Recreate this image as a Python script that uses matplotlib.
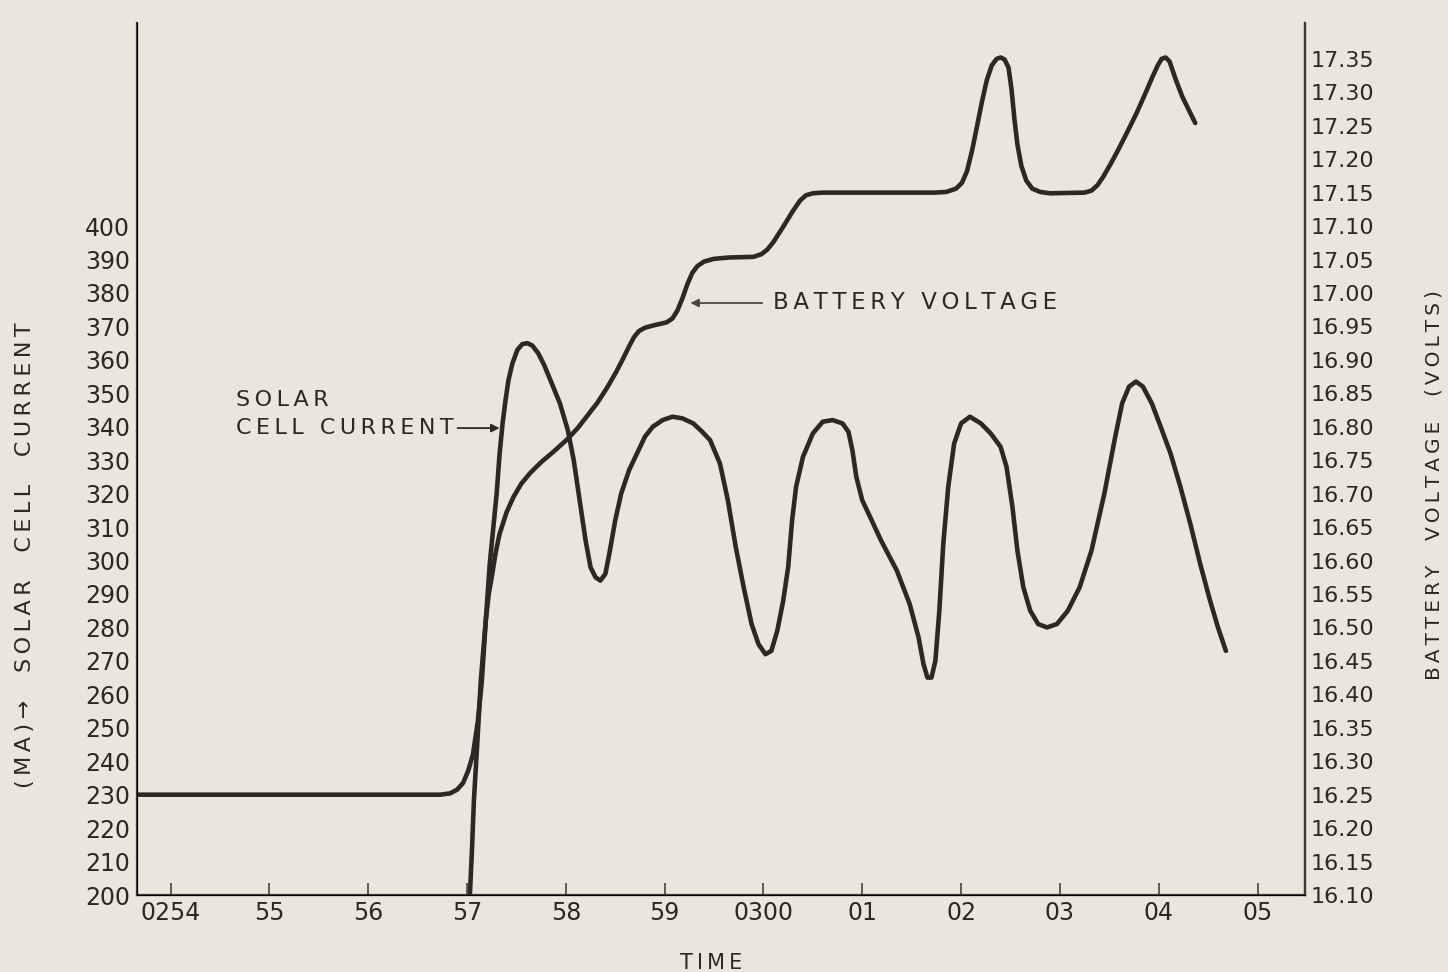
import matplotlib.pyplot as plt

# time axis in minutes after 02:54
tick_pos = list(range(12))
tick_lab = ['0254', '55', '56', '57', '58', '59', '0300', '01', '02', '03', '04', '05']

# solar cell current (mA)
sol_t = [-0.34, 2.73, 2.83, 2.90, 2.96, 3.01, 3.06, 3.11, 3.15, 3.19, 3.23, 3.27, 3.30,
         3.33, 3.36, 3.39, 3.42, 3.46, 3.51, 3.56, 3.61, 3.66, 3.72, 3.78, 3.85, 3.94,
         4.02, 4.08, 4.14, 4.20, 4.25, 4.30, 4.35, 4.40, 4.44, 4.50, 4.56, 4.64, 4.72,
         4.80, 4.88, 4.98, 5.08, 5.18, 5.29, 5.38, 5.46, 5.56, 5.64, 5.72, 5.80, 5.88,
         5.95, 6.02, 6.08, 6.14, 6.20, 6.25, 6.29, 6.33, 6.40, 6.50, 6.60, 6.70, 6.80,
         6.86, 6.90, 6.94, 7.00, 7.08, 7.19, 7.35, 7.48, 7.57, 7.62, 7.66, 7.70, 7.74,
         7.78, 7.82, 7.87, 7.93, 8.00, 8.09, 8.20, 8.30, 8.40, 8.46, 8.52, 8.57, 8.63,
         8.70, 8.78, 8.87, 8.97, 9.08, 9.20, 9.32, 9.45, 9.56, 9.63, 9.70, 9.77, 9.84,
         9.93, 10.02, 10.12, 10.22, 10.32, 10.42, 10.52, 10.60, 10.68]
sol_ma = [230, 230, 230.4, 231.5, 233.5, 237, 242, 252, 264, 282, 299, 311, 320,
          332, 341, 348, 354, 359, 363, 364.7, 365, 364.3, 362, 358.5, 353.5, 347,
          339, 330, 318, 306, 298, 295, 294, 296, 302, 312, 320, 327, 332,
          337, 340, 342, 343, 342.5, 341, 338.5, 336, 329, 318, 304, 292, 281,
          275, 272, 273, 279, 288, 298, 312, 322, 331, 338, 341.5, 342, 341,
          338.5, 333, 325, 318, 313, 306, 297, 287, 277, 269, 265, 265, 270,
          285, 305, 322, 335, 341, 343, 341, 338, 334, 328, 316, 303, 292,
          285, 281, 280, 281, 285, 292, 303, 320, 337, 347, 352, 353.5, 352,
          347, 340, 332, 322, 311, 299, 288, 280, 273]

# battery voltage (V)
bat_t = [3.03, 3.05, 3.07, 3.10, 3.14, 3.19, 3.22, 3.25, 3.29, 3.33, 3.40, 3.47, 3.55,
         3.64, 3.75, 3.87, 4.02, 4.12, 4.21, 4.32, 4.42, 4.51, 4.58, 4.64, 4.69, 4.74,
         4.80, 4.90, 5.02, 5.08, 5.13, 5.18, 5.23, 5.28, 5.33, 5.40, 5.50, 5.65, 5.90,
         5.98, 6.04, 6.10, 6.20, 6.30, 6.37, 6.43, 6.50, 6.60, 7.72, 7.85, 7.95, 8.01,
         8.06, 8.11, 8.16, 8.21, 8.26, 8.31, 8.36, 8.40, 8.44, 8.48, 8.51, 8.54, 8.57,
         8.61, 8.66, 8.72, 8.80, 8.90, 9.25, 9.32, 9.38, 9.44, 9.51, 9.58, 9.68, 9.78,
         9.87, 9.94, 9.99, 10.03, 10.07, 10.11, 10.17, 10.24, 10.37]
bat_v = [16.103, 16.167, 16.242, 16.317, 16.421, 16.511, 16.550, 16.575, 16.612, 16.640,
         16.672, 16.695, 16.715, 16.731, 16.747, 16.762, 16.782, 16.798, 16.815, 16.836,
         16.859, 16.882, 16.902, 16.920, 16.934, 16.943, 16.948, 16.952, 16.956, 16.962,
         16.974, 16.992, 17.013, 17.030, 17.040, 17.047, 17.051, 17.053, 17.054, 17.058,
         17.065, 17.076, 17.099, 17.123, 17.138, 17.146, 17.149, 17.150, 17.150, 17.151,
         17.156, 17.165, 17.182, 17.212, 17.248, 17.285, 17.318, 17.340, 17.350, 17.352,
         17.349, 17.337, 17.305, 17.260, 17.222, 17.190, 17.168, 17.156, 17.151, 17.149,
         17.150, 17.153, 17.161, 17.174, 17.192, 17.211, 17.240, 17.270, 17.300, 17.324,
         17.340, 17.350, 17.352, 17.346, 17.320, 17.293, 17.254]

ma_ticks = list(range(200, 401, 10))
volt_ticks = [16.10 + 0.05 * i for i in range(26)]

paper = '#e9e6dd'
ink = '#2b2925'


def spaced(s):
    # open up the lettering a little, like the stencilled originals
    return '\u2009'.join(s)


fig = plt.figure(figsize=(14.48, 9.72), dpi=100, facecolor=paper)
ax = fig.add_axes([0.0946, 0.0792, 0.8066, 0.8971])
ax.set_facecolor('none')

ax.plot(sol_t, sol_ma, color=ink, lw=3.3, solid_joinstyle='round', solid_capstyle='round')
ax.set_xlim(-0.34, 11.48)
ax.set_ylim(200, 460.7)
ax.set_xticks(tick_pos)
ax.set_xticklabels(tick_lab, fontsize=17, color=ink)
ax.tick_params(axis='x', direction='in', length=9, width=1.3, color='#555048', pad=4)
ax.set_yticks(ma_ticks)
ax.set_yticklabels([str(v) for v in ma_ticks], fontsize=17, color=ink)
ax.tick_params(axis='y', length=0, pad=5)
ax.spines['top'].set_visible(False)
for s in ['left', 'right', 'bottom']:
    ax.spines[s].set_linewidth(1.6)
    ax.spines[s].set_color('#3d3a35')
ax.set_xlabel(spaced('TIME'), fontsize=15, color=ink)
ax.xaxis.set_label_coords(0.492, -0.066)
ax.set_ylabel(spaced('(MA)\u2192  SOLAR  CELL  CURRENT'), fontsize=16, color=ink)
ax.yaxis.set_label_coords(-0.087, 0.39)

ax2 = ax.twinx()
ax2.plot(bat_t, bat_v, color=ink, lw=3.3, solid_joinstyle='round', solid_capstyle='round')
ax2.set_ylim(16.10, 17.4035)
ax2.set_yticks(volt_ticks)
ax2.set_yticklabels(['%.2f' % v for v in volt_ticks], fontsize=16, color=ink)
ax2.tick_params(axis='y', length=0, pad=4)
ax2.spines['top'].set_visible(False)
ax2.spines['right'].set_linewidth(1.6)
ax2.spines['right'].set_color('#3d3a35')
ax2.set_ylabel(spaced('BATTERY  VOLTAGE  (VOLTS)'), fontsize=14.5, color=ink)
ax2.yaxis.set_label_coords(1.102, 0.47)

# curve call-outs
ax.text(0.66, 348, spaced('SOLAR'), fontsize=16, color=ink, va='center', ha='left')
ax.annotate(spaced('CELL CURRENT'), xy=(3.33, 339.6), xytext=(0.66, 339.6),
            fontsize=16, color=ink, va='center', ha='left',
            arrowprops=dict(arrowstyle='-|>', color=ink, lw=1.3, mutation_scale=12,
                            shrinkA=1, shrinkB=0))
ax2.annotate(spaced('BATTERY VOLTAGE'), xy=(5.26, 16.985), xytext=(6.10, 16.985),
             fontsize=16.5, color=ink, va='center', ha='left',
             arrowprops=dict(arrowstyle='-|>', color='#4a4a40', lw=1.3, mutation_scale=12,
                             shrinkA=6, shrinkB=0))

fig.savefig('out.png', dpi=100, facecolor=paper)
